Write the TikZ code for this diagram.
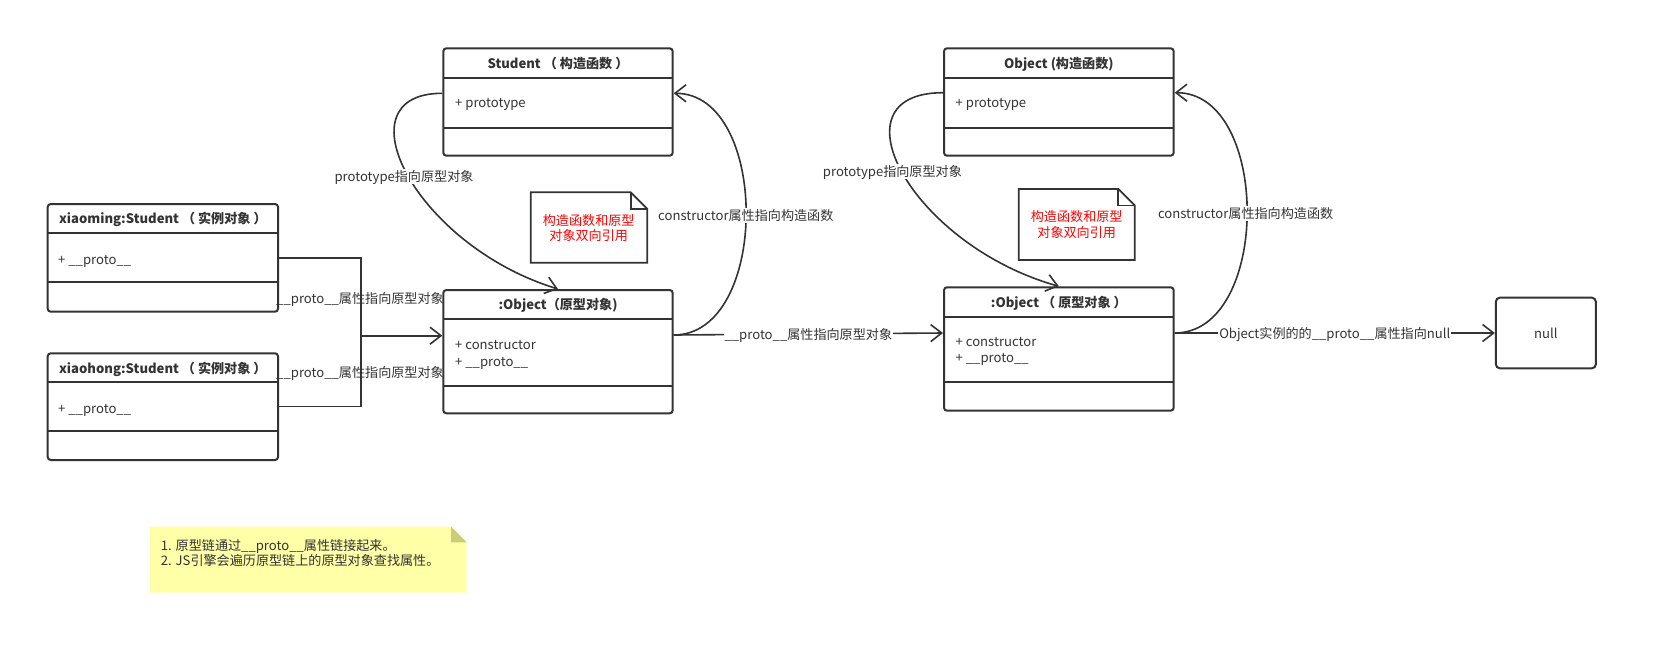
\documentclass[tikz,border=0pt]{standalone}
\usepackage{fontspec}
\setmainfont{Noto Sans CJK SC}
\usetikzlibrary{arrows.meta}
\definecolor{ink}{HTML}{333333}
\definecolor{notey}{HTML}{FFFFA8}
\definecolor{notef}{HTML}{CCCC77}
\tikzset{
  cls/.style={draw=ink, line width=2pt, rounded corners=3pt, inner sep=0pt, fill=white},
  sepline/.style={draw=ink, line width=2pt},
  ttl/.style={font=\bfseries\fontsize{13.1}{15}\selectfont, text=ink, inner sep=0pt, text height=12pt, text depth=1.5pt},
  txt/.style={font=\fontsize{13.1}{15}\selectfont, text=ink, inner sep=0pt, text height=12pt, text depth=1.5pt},
  lbl/.style={txt, fill=white, inner sep=1pt},
  redtxt/.style={txt, text=red},
  conn/.style={draw=ink, line width=1.6pt},
  arr/.style={conn, -{Straight Barb[length=11pt,width=17pt]}},
  noteline/.style={draw=ink, line width=1.7pt, line join=miter},
}
\newcommand\umlcls[8]{%
  \node[cls, minimum width={(#4-#2)*1pt}, minimum height={(#5-#3)*1pt}] (#1) at ({(#2+#4)/2},{(#3+#5)/2}) {};
  \draw[sepline] (#2,#6) -- (#4,#6);
  \draw[sepline] (#2,#7) -- (#4,#7);
  \node[ttl] (#1t) at ({(#2+#4)/2},{(#3+#6)/2}) {#8};
}
\newcommand\whitenote[6]{%
  \node[inner sep=0pt, minimum width={(#4-#2)*1pt}, minimum height={(#5-#3)*1pt}] (#1) at ({(#2+#4)/2},{(#3+#5)/2}) {};
  \draw[noteline, fill=white] (#2,#3) -- ({#4-#6},#3) -- (#4,{#3+#6}) -- (#4,#5) -- (#2,#5) -- cycle;
  \draw[noteline] ({#4-#6},#3) -- ({#4-#6},{#3+#6}) -- (#4,{#3+#6});
}
\begin{document}
\begin{tikzpicture}[x=1pt,y=-1pt]
\path[fill=white] (0,0) rectangle (1658,654);
\useasboundingbox (0,0) rectangle (1658,654);

% classes
\umlcls{xm}{47.7}{204}{278}{311.7}{233.3}{281.7}{xiaoming:Student （ 实例对象 ）}
\node[txt, anchor=west] (xma) at (58,259) {+ \_\_proto\_\_};
\umlcls{xh}{47.7}{353.3}{278}{460}{382.3}{430.7}{xiaohong:Student （ 实例对象 ）}
\node[txt, anchor=west] (xha) at (58,408.3) {+ \_\_proto\_\_};
\umlcls{st}{443.3}{48.3}{672.7}{155.7}{77.7}{127.7}{Student （ 构造函数 ）}
\node[txt, anchor=west] (sta) at (455,102.3) {+ prototype};
\umlcls{pa}{443.3}{290}{672.7}{413.3}{319.3}{385.7}{:Object（原型对象)}
\node[txt, anchor=west] (paa) at (455,344.3) {+ constructor};
\node[txt, anchor=west] (pab) at (455,361) {+ \_\_proto\_\_};
\umlcls{oc}{944}{48.3}{1173.7}{155.7}{77.7}{127.7}{Object (构造函数)}
\node[txt, anchor=west] (oca) at (955.5,102.3) {+ prototype};
\umlcls{pb}{944}{287.3}{1173.7}{410.7}{316.7}{382.3}{:Object （ 原型对象 ）}
\node[txt, anchor=west] (pba) at (955.5,341.7) {+ constructor};
\node[txt, anchor=west] (pbb) at (955.5,357.7) {+ \_\_proto\_\_};
\node[cls, rounded corners=4pt, minimum width=100pt, minimum height=70.6pt] (nl) at (1545.85,333) {};
\node[txt] (nlt) at (nl.center) {null};

% notes
\whitenote{na}{530.7}{192.3}{647.3}{262.7}{16.6}
\node[redtxt] (na1) at (588.7,220) {构造函数和原型};
\node[redtxt] (na2) at (588.7,235.7) {对象双向引用};
\whitenote{nb}{1018.7}{189}{1134.7}{260}{16.4}
\node[redtxt] (nb1) at (1076.7,216.7) {构造函数和原型};
\node[redtxt] (nb2) at (1076.7,232.3) {对象双向引用};

\fill[notey] (150,526.7) -- (451,526.7) -- (466.7,542.4) -- (466.7,592.7) -- (150,592.7) -- cycle;
\fill[notef] (451,526.7) -- (466.7,542.4) -- (451,542.4) -- cycle;
\node[inner sep=0pt, minimum width=316.7pt, minimum height=66pt] (ny) at (308.35,559.7) {};
\node[txt, anchor=west] (ny1) at (160.7,545) {1. 原型链通过\_\_proto\_\_属性链接起来。};
\node[txt, anchor=west] (ny2) at (160.7,560.5) {2. JS引擎会遍历原型链上的原型对象查找属性。};

% connectors: instances -> prototype
\coordinate (j) at (360.7,335.7);
\draw[conn] (xm.east) -| (j);
\draw[conn] (xh.east) -| (j);
\draw[arr] (j) -- (j -| pa.west);
\node[txt] (l1) at (360,298) {\_\_proto\_\_属性指向原型对象};
\node[txt] (l2) at (360,372.7) {\_\_proto\_\_属性指向原型对象};

% prototype -> Object prototype
\draw[arr] (pa.east |- 0,335) -- (pb.west |- 0,333)
  node[lbl, midway] (l3) {\_\_proto\_\_属性指向原型对象};
% Object prototype -> null
\draw[arr] (pb.east |- nl.west) -- (nl.west)
  node[lbl, midway] (l4) {Object实例的的\_\_proto\_\_属性指向null};

% prototype curves
\draw[arr] (st.west |- 0,93.3) .. controls (338,93.3) and (415,245) .. (pa.north);
\draw[arr] (oc.west |- 0,92.7) .. controls (829,92.7) and (912,245) .. (pb.north);
% constructor curves
\draw[arr] (pa.east |- 0,335) .. controls (770,335) and (770,93.3) .. (st.east |- 0,93.3);
\draw[arr] (pb.east |- 0,333) .. controls (1271,333) and (1271,92.7) .. (oc.east |- 0,92.7);

\node[lbl] (l5) at (404,176.6) {prototype指向原型对象};
\node[lbl] (l6) at (892.4,171.7) {prototype指向原型对象};
\node[lbl] (l7) at (745.8,215.7) {constructor属性指向构造函数};
\node[lbl] (l8) at (1245.6,213.3) {constructor属性指向构造函数};
\end{tikzpicture}
\end{document}
